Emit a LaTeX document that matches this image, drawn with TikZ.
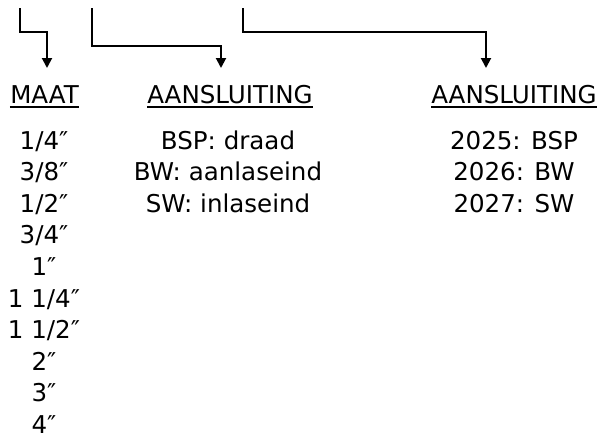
\documentclass[tikz,border=0pt]{standalone}
\usepackage{fontspec}
\setmainfont{DejaVu Sans}
\usetikzlibrary{arrows.meta}
\begin{document}
\begin{tikzpicture}[x=0.75pt,y=-0.75pt,
  txt/.style={inner sep=0pt, anchor=base, font=\fontsize{18.4}{22}\selectfont},
  conn/.style={line width=1.5pt, -{Triangle[width=7.5pt,length=7.5pt]}},
  ul/.style={line width=1.2pt}]
\useasboundingbox (0,0) rectangle (600,439);
% headings
\node[txt] (maat) at (44.5,103) {MAAT};
\node[txt] (aans1) at (230,103) {AANSLUITING};
\node[txt] (aans2) at (514,103) {AANSLUITING};
\foreach \n in {maat,aans1,aans2}
  \draw[ul] ([yshift=-3pt]\n.base west) -- ([yshift=-3pt]\n.base east);
% connectors
\coordinate (s1) at (20,8);   \coordinate (b1) at (47,32);  \coordinate (t1) at (47,68);
\coordinate (s2) at (92,8);   \coordinate (b2) at (221,46); \coordinate (t2) at (221,68);
\coordinate (s3) at (243,8);  \coordinate (b3) at (486,32); \coordinate (t3) at (486,68);
\draw[conn] (s1) |- (b1) -- (t1);
\draw[conn] (s2) |- (b2) -- (t2);
\draw[conn] (s3) |- (b3) -- (t3);
% column 1
\foreach \t [count=\i from 0] in {1/4″,3/8″,1/2″,3/4″,1″,1 1/4″,1 1/2″,2″,3″,4″}
  \node[txt] (m\i) at (44,149+31.6*\i) {\t};
% column 2
\node[txt] (a0) at (228,149) {BSP: draad};
\node[txt] (a1) at (228,180.6) {BW: aanlaseind};
\node[txt] (a2) at (228,212.2) {SW: inlaseind};
% column 3
\node[txt] (c0) at (514,149) {2025: BSP};
\node[txt] (c1) at (514,180.6) {2026: BW};
\node[txt] (c2) at (514,212.2) {2027: SW};
\end{tikzpicture}
\end{document}
